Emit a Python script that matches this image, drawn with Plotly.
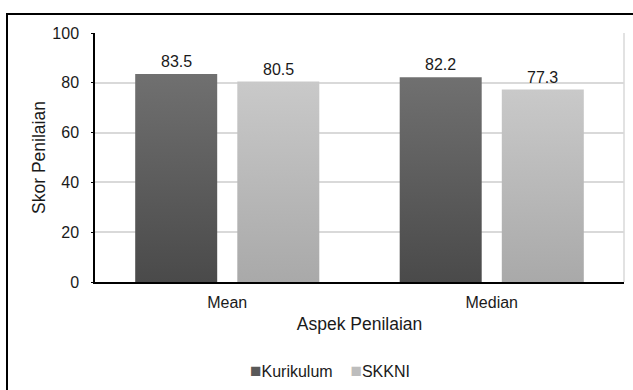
import plotly.graph_objects as go

# Data
categories = ["Mean", "Median"]
series_names = ["Kurikulum", "SKKNI"]
kurikulum = [83.5, 82.2]
skkni = [80.5, 77.3]
y_ticks = [0, 20, 40, 60, 80, 100]

# Styling
W, H = 633, 390
FONT = "Liberation Sans, Arial, sans-serif"
TEXT = "#1a1a1a"
grad = {
    "Kurikulum": ("#4a4a4a", "#707070"),   # bottom, top
    "SKKNI": ("#a9a9a9", "#c9c9c9"),
}
legend_col = {"Kurikulum": "#595959", "SKKNI": "#bdbdbd"}
slot = 0.386          # spacing between bar centres within a group (category units)
bar_w = 0.31          # bar width (category units)
FS_TICK = 16
FS_LABEL = 16
FS_TITLE = 17.5

ML, MR, MT, MB = 95, 9, 33, 108
pw = W - ML - MR
ph = H - MT - MB

fig = go.Figure()
annotations = []
for s_idx, (name, vals) in enumerate(zip(series_names, [kurikulum, skkni])):
    offset = (s_idx - 0.5) * slot
    for c_idx, v in enumerate(vals):
        xc = c_idx + offset
        x0, x1 = xc - bar_w / 2, xc + bar_w / 2
        fig.add_trace(go.Scatter(
            x=[x0, x0, x1, x1, x0], y=[0, v, v, 0, 0],
            mode="lines", fill="toself", line=dict(width=0),
            fillgradient=dict(type="vertical",
                              colorscale=[[0, grad[name][0]], [1, grad[name][1]]]),
            name=name, showlegend=False, hoverinfo="skip",
        ))
        annotations.append(dict(
            x=xc, y=v, xref="x", yref="y", text=f"{v:.1f}", showarrow=False,
            yanchor="bottom", yshift=2, font=dict(family=FONT, size=FS_LABEL, color=TEXT),
        ))

# legend row: small square swatch followed by the series name
legend_text = "    ".join(
    f'<span style="color:{legend_col[n]}; font-size:19px">■</span>{n}' for n in series_names
)
annotations.append(dict(
    x=(330 - ML) / pw, y=(H - 370 - MB) / ph, xref="paper", yref="paper",
    text=legend_text, showarrow=False, xanchor="center", yanchor="middle",
    font=dict(family=FONT, size=FS_LABEL, color=TEXT),
))

shapes = [
    # outer frame (top and left edges visible)
    dict(type="rect", xref="paper", yref="paper",
         x0=(7 - ML) / pw, x1=(W + 20 - ML) / pw,
         y0=-(H + 20 - MT - ph) / ph, y1=(H - 14 - MB) / ph,
         line=dict(color="#000000", width=2), fillcolor="rgba(0,0,0,0)", layer="above"),
    # right border of plot area
    dict(type="line", xref="paper", yref="paper", x0=1, x1=1, y0=0, y1=1,
         line=dict(color="#d9d9d9", width=1.5), layer="below"),
]

fig.update_layout(
    width=W, height=H,
    margin=dict(l=ML, r=MR, t=MT, b=MB),
    paper_bgcolor="white", plot_bgcolor="white",
    font=dict(family=FONT, size=FS_TICK, color=TEXT),
    showlegend=False,
    annotations=annotations,
    shapes=shapes,
)
fig.update_xaxes(
    range=[-0.5, 1.5], tickvals=list(range(len(categories))), ticktext=categories,
    showline=True, linecolor="#000000", linewidth=1.5, showgrid=False, zeroline=False,
    ticks="", ticklabelstandoff=5, tickfont=dict(size=FS_TICK),
    title=dict(text="Aspek Penilaian", standoff=8, font=dict(size=FS_TITLE)),
)
fig.update_yaxes(
    range=[0, 100], tickvals=y_ticks, showline=True, linecolor="#000000", linewidth=1.5,
    showgrid=True, gridcolor="#d9d9d9", gridwidth=1.5, zeroline=False,
    ticks="outside", ticklen=2, tickcolor="#000000", ticklabelstandoff=9,
    tickfont=dict(size=FS_TICK),
    title=dict(text="Skor Penilaian", standoff=2, font=dict(size=FS_TITLE)),
)

fig.write_html("out.html")
